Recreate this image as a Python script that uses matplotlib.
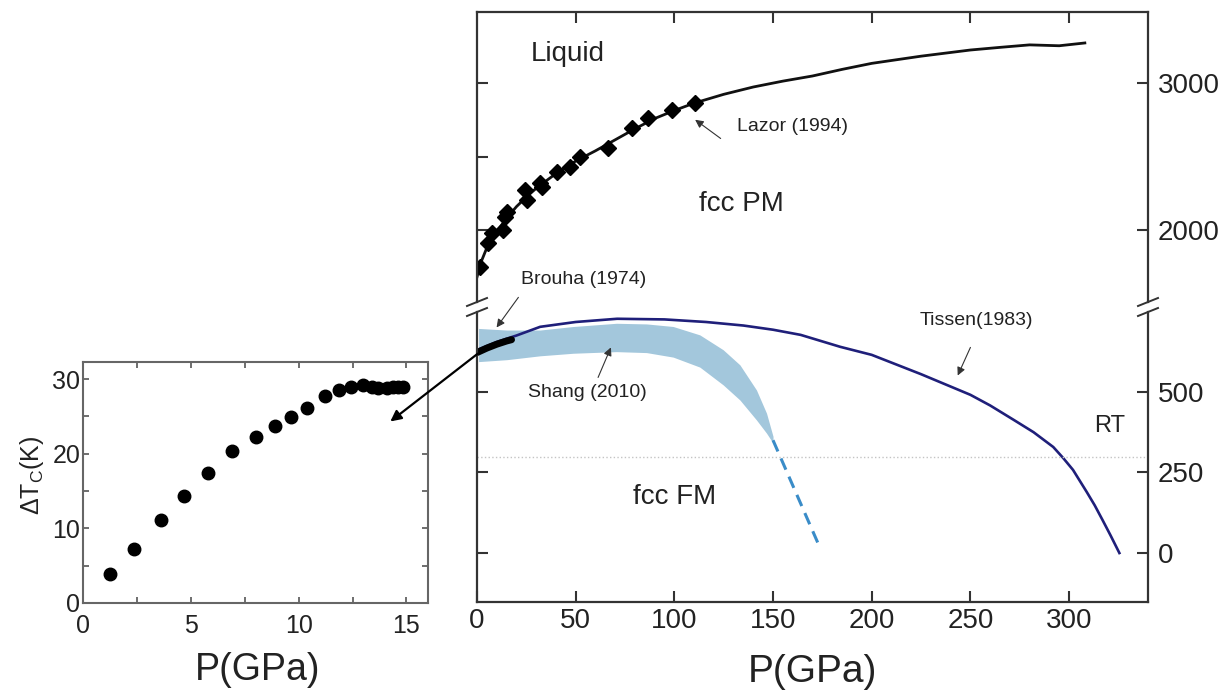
import numpy as np
import matplotlib.pyplot as plt

plt.rcParams['font.family'] = ['Liberation Sans', 'DejaVu Sans']
plt.rcParams['mathtext.default'] = 'regular'

# melting curve (Lazor 1994), upper panel
melt_p = [0, 2, 5, 10, 15, 20, 25, 30, 35, 40, 50, 60, 70, 80, 90, 100, 110, 125, 140, 155,
          170, 185, 200, 225, 250, 265, 280, 295, 308]
melt_t = [1680, 1780, 1880, 1990, 2080, 2160, 2225, 2285, 2335, 2385, 2470, 2540, 2615, 2690,
          2760, 2815, 2865, 2925, 2975, 3015, 3050, 3095, 3136, 3185, 3227, 3245, 3262, 3256,
          3275]
lazor_p = [1.5, 5.7, 7.4, 13.3, 14.2, 15.0, 24.3, 25.2, 31.9, 32.7, 40.3, 47.0, 52.0, 66.5,
           78.3, 86.7, 98.6, 110.4]
lazor_t = [1750, 1909, 1977, 2000, 2091, 2125, 2273, 2204, 2318, 2295, 2397, 2432, 2500, 2557,
           2693, 2761, 2818, 2864]

# Curie temperature (Tissen 1983), lower panel
tissen_p = [0, 10, 20, 32, 50, 71, 95, 116, 135, 150, 164, 184, 200, 225, 250, 260, 272, 282,
            292, 297, 302, 309, 313, 317, 321, 325.5]
tissen_t = [630, 655, 675, 702, 717, 727, 725, 717, 706, 693, 677, 640, 615, 555, 491, 458, 413,
            375, 329, 295, 258, 189, 148, 102, 55, 0]

# Shang (2010) band
shang_p = [0.8, 15.1, 31.9, 48.8, 70.7, 85.9, 99.4, 112.9, 124.7, 133.2, 141.6, 146.7, 150]
shang_hi = [697, 692, 692, 703, 713, 711, 703, 677, 631, 584, 506, 434, 362]
shang_lo = [594, 600, 612, 620, 625, 622, 608, 577, 522, 475, 413, 372, 341]
shang_ext_p = [150, 173.6]
shang_ext_t = [350, 19]

# Brouha (1974)
brouha_p = [0, 5, 10, 15, 17.5]
brouha_t = [622, 636, 648, 658, 662]

room_t = 298

# inset: delta Tc vs P
inset_p = [1.23, 2.38, 3.62, 4.69, 5.82, 6.89, 8.0, 8.89, 9.66, 10.38, 11.2, 11.85, 12.43,
           13.0, 13.38, 13.69, 14.08, 14.38, 14.62, 14.85]
inset_dt = [3.85, 7.3, 11.1, 14.3, 17.4, 20.4, 22.3, 23.7, 24.9, 26.2, 27.8, 28.5, 28.9,
            29.2, 28.9, 28.8, 28.8, 28.9, 28.9, 28.9]

W, H = 1228, 698
def rect(l, t, r, b):
    return [l / W, 1 - b / H, (r - l) / W, (b - t) / H]

fig = plt.figure(figsize=(W / 100, H / 100), dpi=100)
ax_up = fig.add_axes(rect(477, 12, 1148, 302))
ax_lo = fig.add_axes(rect(477, 312, 1148, 602))
ax_in = fig.add_axes(rect(83, 362, 428, 603))

txt = '#222222'
spc = '#333333'

# ---- upper panel
ax_up.plot(melt_p, melt_t, color='#111111', lw=2)
ax_up.plot(lazor_p, lazor_t, 'D', color='black', ms=8)
ax_up.set_xlim(0, 340)
ax_up.set_ylim(1510, 3486)
ax_up.spines['bottom'].set_visible(False)
ax_up.set_yticks([2000, 3000])
ax_up.set_yticks([2500], minor=True)
ax_up.set_xticks([50, 100, 150, 200, 250, 300])
ax_up.tick_params(axis='x', bottom=False, top=True, labelbottom=False, direction='in',
                  length=8, width=1.5, color=spc)
ax_up.tick_params(axis='y', left=True, right=True, labelleft=False, labelright=True,
                  direction='in', length=8, width=1.5, color=spc, labelsize=20, pad=7,
                  labelcolor=txt)
ax_up.tick_params(axis='y', which='minor', left=True, right=False, direction='in',
                  length=8, width=1.5, color=spc)

ax_up.text(46, 3200, 'Liquid', fontsize=20, ha='center', va='center', color=txt)
ax_up.text(134, 2177, 'fcc PM', fontsize=20, ha='center', va='center', color=txt)
ax_up.text(160, 2709, 'Lazor (1994)', fontsize=14, ha='center', va='center', color=txt)
ax_up.text(54, 1666, 'Brouha (1974)', fontsize=14, ha='center', va='center', color=txt)
ax_up.annotate('', xy=(109.4, 2763), xytext=(124.6, 2613),
               arrowprops=dict(arrowstyle='-|>', color='#333333', lw=0.8, mutation_scale=12))

# ---- lower panel
ax_lo.fill_between(shang_p, shang_lo, shang_hi, color='#a3c7dc', lw=0)
ax_lo.plot(shang_ext_p, shang_ext_t, color='#3a8cc8', lw=2.2, ls=(0, (4, 2.5)))
ax_lo.plot(tissen_p, tissen_t, color='#1f1f7a', lw=1.9)
ax_lo.plot(brouha_p, brouha_t, color='black', lw=5, solid_capstyle='round')
ax_lo.axhline(room_t, color='#c4c4c4', lw=1, ls=':')
ax_lo.set_xlim(0, 340)
ax_lo.set_ylim(-152, 748)
ax_lo.spines['top'].set_visible(False)
ax_lo.set_yticks([0, 250, 500])
ax_lo.set_xticks([0, 50, 100, 150, 200, 250, 300])
ax_lo.tick_params(axis='x', bottom=True, top=False, direction='in', length=8, width=1.5,
                  color=spc, labelsize=20, pad=4, labelcolor=txt)
ax_lo.tick_params(axis='y', left=True, right=True, labelleft=False, labelright=True,
                  direction='in', length=8, width=1.5, color=spc, labelsize=20, pad=7,
                  labelcolor=txt)

ax_lo.text(55.7, 497, 'Shang (2010)', fontsize=14, ha='center', va='center', color=txt)
ax_lo.text(253, 721, 'Tissen(1983)', fontsize=14, ha='center', va='center', color=txt)
ax_lo.text(100, 174, 'fcc FM', fontsize=20, ha='center', va='center', color=txt)
ax_lo.text(320.5, 394, 'RT', fontsize=17, ha='center', va='center', color=txt)

arr = dict(arrowstyle='-|>', color='#333333', lw=0.8, mutation_scale=12)
ax_lo.annotate('', xy=(68.4, 646), xytext=(60.8, 537), arrowprops=arr)
ax_lo.annotate('', xy=(243, 543), xytext=(250.6, 646), arrowprops=arr)
ax_lo.annotate('', xy=(9.1, 693), xycoords=ax_lo.transData,
               xytext=(21.8, 1557), textcoords=ax_up.transData,
               arrowprops=arr, annotation_clip=False)

for ax in (ax_up, ax_lo):
    for s in ax.spines.values():
        s.set_linewidth(1.6)
        s.set_color(spc)

# break marks
dx, dy = 10 / 671, 4 / 290
for x0 in (0, 1):
    ax_up.plot([x0 - dx, x0 + dx], [-dy, dy], transform=ax_up.transAxes, color=spc,
               lw=1.4, clip_on=False)
    ax_lo.plot([x0 - dx, x0 + dx], [1 - dy, 1 + dy], transform=ax_lo.transAxes, color=spc,
               lw=1.4, clip_on=False)

fig.text(812 / W, 1 - 672 / H, 'P(GPa)', fontsize=28, ha='center', va='center', color=txt)

# ---- inset
ax_in.plot(inset_p, inset_dt, 'o', color='black', ms=9)
ax_in.set_xlim(0, 16)
ax_in.set_ylim(0, 32.3)
ax_in.set_xticks([0, 5, 10, 15])
ax_in.set_xticks(np.arange(2.5, 16, 5), minor=True)
ax_in.set_yticks([0, 10, 20, 30])
ax_in.set_yticks([5, 15, 25], minor=True)
ax_in.tick_params(which='both', direction='in', top=True, right=True, length=4, width=1.2,
                  color='#555555', labelsize=18, labelcolor=txt)
ax_in.tick_params(axis='x', pad=8)
ax_in.tick_params(axis='y', pad=2)
for s in ax_in.spines.values():
    s.set_linewidth(1.5)
    s.set_color('#666666')

fig.text(258 / W, 1 - 670 / H, 'P(GPa)', fontsize=27, ha='center', va='center', color=txt)
fig.text(32 / W, 1 - 475 / H, 'ΔT$_C$(K)', fontsize=18, rotation=90, ha='center',
         va='center', color=txt)

# arrow from Brouha data to the inset
ax_in.annotate('', xy=(14.15, 24.1), xycoords=ax_in.transData,
               xytext=(1.5, 624), textcoords=ax_lo.transData,
               arrowprops=dict(arrowstyle='-|>', color='black', lw=1.6, mutation_scale=16),
               annotation_clip=False)

fig.savefig('out.png', dpi=100)
